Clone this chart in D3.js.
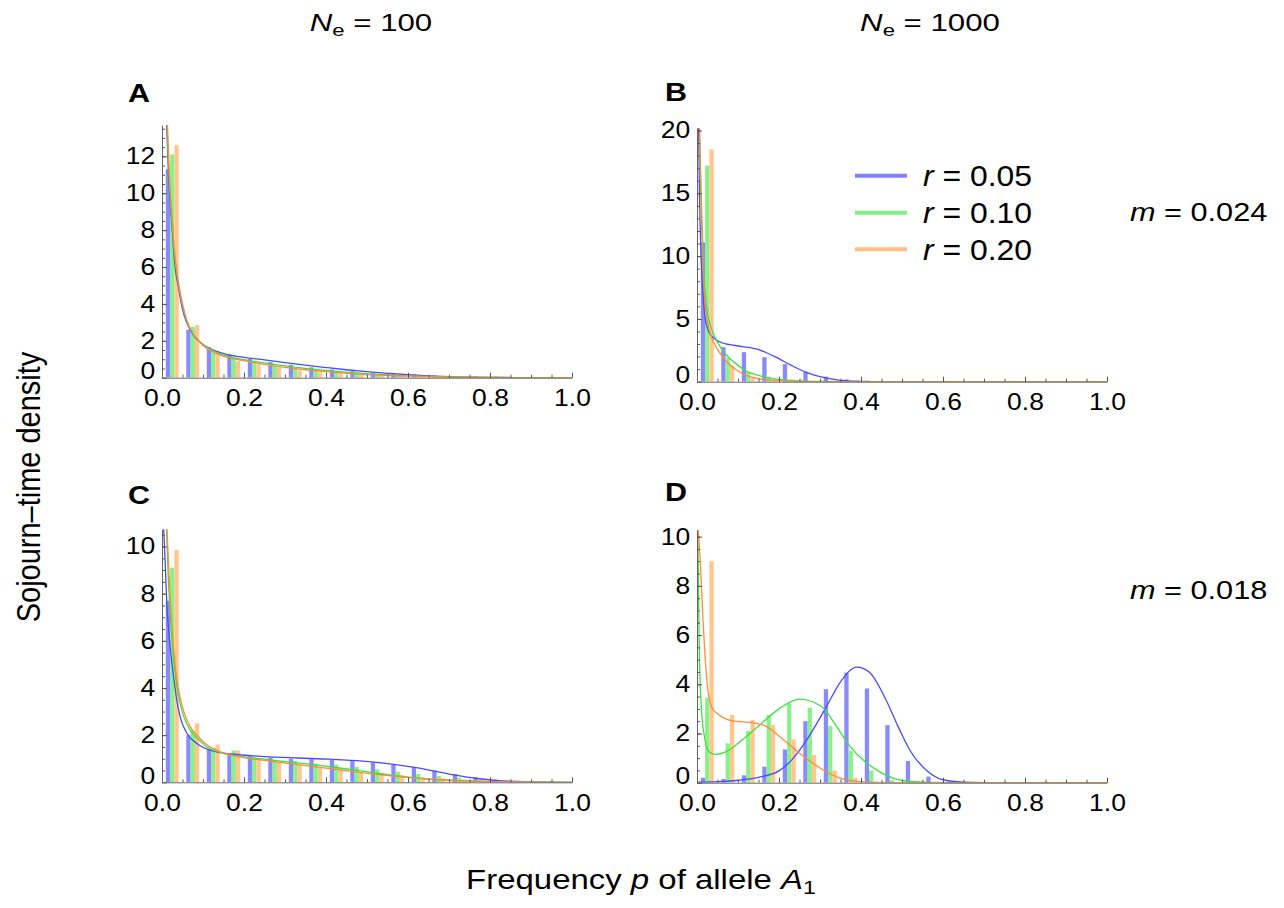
<!DOCTYPE html>
<html>
<head>
<meta charset="UTF-8">
<script src="https://d3js.org/d3.v7.min.js"></script>
<style>
    body {
        margin: 0;
        background: #fff;
        font-family: "Liberation Sans", Arial, Helvetica, sans-serif;
    }
    .tick text { fill: #000; }
</style>
</head>
<body>
<svg id="chart" width="1284" height="908"></svg>
<script>
// ---- data ----
const seriesKeys = ["0.05", "0.10", "0.20"];
const xTickValues = [0, 0.2, 0.4, 0.6, 0.8, 1.0];
const binCenters = [0.025, 0.075, 0.125, 0.175, 0.225, 0.275, 0.325, 0.375, 0.425, 0.475,
                    0.525, 0.575, 0.625, 0.675, 0.725, 0.775, 0.825, 0.875, 0.925, 0.975];

const yTicksA = [0, 2, 4, 6, 8, 10, 12];
const yTicksB = [0, 5, 10, 15, 20];
const yTicksC = [0, 2, 4, 6, 8, 10];
const yTicksD = [0, 2, 4, 6, 8, 10];

// histogram bars, one value per bin
const barsA_r005 = [11.3, 2.6, 1.65, 1.25, 1.02, 0.85, 0.7, 0.56, 0.45, 0.35, 0.28, 0.22, 0.17, 0.12, 0.09, 0.07, 0.05, 0.04, 0.02, 0.01];
const barsA_r010 = [12.1, 2.75, 1.45, 1.05, 0.85, 0.65, 0.5, 0.4, 0.3, 0.25, 0.18, 0.13, 0.1, 0.07, 0.05, 0.04, 0.03, 0.02, 0.01, 0.005];
const barsA_r020 = [12.6, 2.85, 1.35, 0.9, 0.72, 0.55, 0.4, 0.3, 0.24, 0.18, 0.13, 0.1, 0.07, 0.05, 0.04, 0.03, 0.02, 0.015, 0.01, 0.005];

const barsB_r005 = [11.1, 2.75, 2.35, 1.95, 1.4, 0.8, 0.4, 0.18, 0.08, 0.04, 0.02, 0.01, 0, 0, 0, 0, 0, 0, 0, 0];
const barsB_r010 = [17.2, 1.9, 0.75, 0.3, 0.12, 0.05, 0.02, 0.01, 0, 0, 0, 0, 0, 0, 0, 0, 0, 0, 0, 0];
const barsB_r020 = [18.5, 1.3, 0.3, 0.1, 0.03, 0.01, 0, 0, 0, 0, 0, 0, 0, 0, 0, 0, 0, 0, 0, 0];

const barsC_r005 = [7.7, 2.0, 1.4, 1.2, 1.1, 1.05, 1.0, 0.98, 0.95, 0.9, 0.85, 0.75, 0.65, 0.5, 0.35, 0.22, 0.12, 0.06, 0.03, 0.01];
const barsC_r010 = [9.1, 2.2, 1.45, 1.35, 1.05, 0.95, 0.9, 0.8, 0.75, 0.65, 0.55, 0.45, 0.35, 0.27, 0.2, 0.13, 0.08, 0.04, 0.02, 0.01];
const barsC_r020 = [9.85, 2.5, 1.6, 1.35, 1.0, 0.85, 0.75, 0.65, 0.55, 0.45, 0.38, 0.3, 0.22, 0.17, 0.12, 0.08, 0.05, 0.03, 0.01, 0.005];

const barsD_r005 = [0.2, 0.15, 0.3, 0.65, 1.35, 2.5, 3.8, 4.47, 3.83, 2.34, 0.88, 0.25, 0.05, 0.02, 0, 0, 0, 0, 0, 0];
const barsD_r010 = [3.45, 1.6, 2.1, 2.75, 3.22, 3.05, 2.3, 1.3, 0.5, 0.1, 0.02, 0, 0, 0, 0, 0, 0, 0, 0, 0];
const barsD_r020 = [9.0, 2.75, 2.55, 2.34, 1.76, 1.12, 0.5, 0.2, 0.05, 0.01, 0, 0, 0, 0, 0, 0, 0, 0, 0, 0];

// diffusion curves, [p, density]
const curveA_r005 = [[0.011,13.9],[0.015,11.5],[0.02,9.5],[0.025,8],[0.03,6.4],[0.04,4.9],[0.05,3.7],[0.06,3.0],[0.08,2.2],[0.1,1.8],[0.13,1.45],[0.16,1.25],[0.2,1.1],[0.25,0.97],[0.3,0.82],[0.35,0.68],[0.4,0.55],[0.45,0.43],[0.5,0.33],[0.55,0.24],[0.6,0.16],[0.65,0.1],[0.7,0.06],[0.8,0.02],[0.9,0.005],[1,0]];
const curveA_r010 = [[0.012,13.9],[0.016,11.5],[0.02,9.8],[0.025,8.3],[0.03,6.8],[0.04,5.1],[0.05,3.9],[0.06,3.1],[0.08,2.25],[0.1,1.8],[0.13,1.4],[0.16,1.15],[0.2,0.98],[0.25,0.8],[0.3,0.64],[0.35,0.5],[0.4,0.39],[0.45,0.3],[0.5,0.22],[0.55,0.15],[0.6,0.1],[0.7,0.04],[0.8,0.015],[0.9,0.004],[1,0]];
const curveA_r020 = [[0.013,13.9],[0.017,11.6],[0.02,10.2],[0.025,8.6],[0.03,7.0],[0.04,5.2],[0.05,4.0],[0.06,3.15],[0.08,2.25],[0.1,1.75],[0.13,1.35],[0.16,1.1],[0.2,0.92],[0.25,0.72],[0.3,0.56],[0.35,0.43],[0.4,0.33],[0.45,0.24],[0.5,0.17],[0.55,0.12],[0.6,0.08],[0.7,0.03],[0.8,0.01],[0.9,0.003],[1,0]];

const curveB_r005 = [[0.004,20.2],[0.006,15],[0.008,12],[0.012,8.5],[0.016,6.3],[0.02,5.0],[0.03,3.9],[0.04,3.5],[0.06,3.1],[0.08,2.95],[0.11,2.8],[0.15,2.55],[0.19,2.0],[0.23,1.3],[0.27,0.7],[0.3,0.4],[0.33,0.2],[0.36,0.08],[0.4,0.03],[0.45,0.01],[0.5,0],[1,0]];
const curveB_r010 = [[0.006,20.2],[0.01,15],[0.015,10],[0.02,7],[0.03,4.8],[0.04,3.8],[0.06,2.6],[0.08,1.85],[0.1,1.3],[0.12,0.85],[0.15,0.5],[0.18,0.28],[0.2,0.18],[0.25,0.06],[0.3,0.02],[0.4,0],[1,0]];
const curveB_r020 = [[0.006,20.2],[0.01,14],[0.015,9],[0.02,6.2],[0.03,4.1],[0.04,3.2],[0.06,2.1],[0.08,1.35],[0.1,0.85],[0.12,0.5],[0.15,0.25],[0.2,0.08],[0.25,0.02],[0.3,0],[1,0]];

const curveC_r005 = [[0.004,10.8],[0.008,9.2],[0.012,7.5],[0.016,6.5],[0.022,5.4],[0.028,4.5],[0.036,3.5],[0.044,2.8],[0.06,2.1],[0.085,1.65],[0.13,1.3],[0.17,1.2],[0.25,1.09],[0.33,1.03],[0.41,0.98],[0.49,0.9],[0.57,0.75],[0.62,0.62],[0.7,0.35],[0.78,0.14],[0.82,0.07],[0.9,0.02],[1,0]];
const curveC_r010 = [[0.011,10.8],[0.015,8.8],[0.02,7.2],[0.028,5.3],[0.036,4.1],[0.044,3.35],[0.055,2.7],[0.069,2.2],[0.09,1.8],[0.11,1.5],[0.15,1.23],[0.2,1.08],[0.25,0.98],[0.33,0.82],[0.41,0.66],[0.49,0.47],[0.57,0.28],[0.65,0.14],[0.74,0.06],[0.85,0.02],[1,0]];
const curveC_r020 = [[0.012,10.8],[0.016,9.2],[0.02,7.8],[0.028,5.75],[0.036,4.4],[0.044,3.6],[0.055,2.9],[0.069,2.35],[0.09,1.9],[0.11,1.58],[0.15,1.25],[0.2,1.05],[0.25,0.93],[0.33,0.75],[0.41,0.58],[0.49,0.4],[0.57,0.25],[0.65,0.13],[0.74,0.06],[0.85,0.02],[1,0]];

const curveD_r005 = [[0,0.02],[0.05,0.04],[0.1,0.1],[0.15,0.22],[0.2,0.48],[0.235,1.0],[0.27,1.8],[0.316,3.1],[0.35,4.1],[0.39,4.7],[0.42,4.5],[0.46,3.4],[0.49,2.3],[0.52,1.3],[0.56,0.5],[0.6,0.12],[0.65,0.02],[0.7,0],[1,0]];
const curveD_r010 = [[0.002,10.3],[0.005,6],[0.01,3.2],[0.02,1.7],[0.03,1.25],[0.045,1.15],[0.07,1.25],[0.1,1.6],[0.15,2.3],[0.2,3.0],[0.25,3.4],[0.28,3.3],[0.31,3.0],[0.34,2.3],[0.37,1.55],[0.41,0.85],[0.45,0.4],[0.48,0.18],[0.53,0.04],[0.6,0],[1,0]];
const curveD_r020 = [[0.003,10.3],[0.008,9],[0.015,6.5],[0.025,4.0],[0.035,3.1],[0.05,2.8],[0.09,2.5],[0.13,2.45],[0.17,2.28],[0.2,1.9],[0.25,1.2],[0.3,0.6],[0.35,0.18],[0.4,0.04],[0.45,0],[1,0]];

// ---- styles ----
const barColors = ["#8a8aff", "#8af08a", "#ffc68e"];
const lineColors = ["#4a4aff", "#3ee03e", "#ff8a3c"];
const legendColors = ["#8282ff", "#82f082", "#ffbf82"];
const barSpan = 0.0315;
const textStretch = 1.15; // the figure text is wider than it is tall

const panels = [
    { letter: "A", lx: 128, ly: 102, left: 162, right: 572, top: 125, bottom: 377.7, yMax: 13.7, yTicks: yTicksA, minor: 0.5,
      bars: [barsA_r005, barsA_r010, barsA_r020], curves: [curveA_r005, curveA_r010, curveA_r020] },
    { letter: "B", lx: 665, ly: 101, left: 697, right: 1107, top: 128, bottom: 381.7, yMax: 20.2, yTicks: yTicksB, minor: 1,
      bars: [barsB_r005, barsB_r010, barsB_r020], curves: [curveB_r005, curveB_r010, curveB_r020] },
    { letter: "C", lx: 128, ly: 504, left: 162, right: 572, top: 529.3, bottom: 782.3, yMax: 10.73, yTicks: yTicksC, minor: 0.5,
      bars: [barsC_r005, barsC_r010, barsC_r020], curves: [curveC_r005, curveC_r010, curveC_r020] },
    { letter: "D", lx: 665, ly: 501, left: 697, right: 1107, top: 530, bottom: 782.7, yMax: 10.27, yTicks: yTicksD, minor: 0.5,
      bars: [barsD_r005, barsD_r010, barsD_r020], curves: [curveD_r005, curveD_r010, curveD_r020] }
];

const svg = d3.select("#chart");
const defs = svg.append("defs");

// text placed at (x, y) and widened horizontally by sx
function wideText(x, y, sx) {
    return svg.append("text")
        .attr("transform", `translate(${x},${y}) scale(${sx},1)`);
}

panels.forEach(p => {
    const x = d3.scaleLinear().domain([0, 1]).range([p.left, p.right]);
    const y = d3.scaleLinear().domain([0, p.yMax]).range([p.bottom, p.top]);
    const inner = d3.scaleBand().domain(seriesKeys).range([-barSpan / 2, barSpan / 2]);
    const g = svg.append("g");

    const clipId = "clip" + p.letter;
    defs.append("clipPath").attr("id", clipId)
        .append("rect")
        .attr("x", p.left - 2).attr("y", p.top)
        .attr("width", p.right - p.left + 4).attr("height", p.bottom - p.top);

    // bars
    seriesKeys.forEach((s, i) => {
        g.append("g")
            .attr("clip-path", `url(#${clipId})`)
            .selectAll("rect")
            .data(p.bars[i].map((v, k) => ({ c: binCenters[k], v })))
            .join("rect")
            .attr("x", d => x(d.c + inner(s)))
            .attr("width", x(inner.bandwidth()) - x(0))
            .attr("y", d => y(d.v))
            .attr("height", d => y(0) - y(d.v))
            .attr("fill", barColors[i]);
    });

    // curves
    const line = d3.line()
        .x(d => x(d[0]))
        .y(d => y(d[1]))
        .curve(d3.curveMonotoneX);
    p.curves.forEach((c, i) => {
        g.append("path")
            .datum(c)
            .attr("clip-path", `url(#${clipId})`)
            .attr("fill", "none")
            .attr("stroke", lineColors[i])
            .attr("stroke-width", 1.3)
            .attr("d", line);
    });

    // x axis
    const xAxis = g.append("g")
        .attr("transform", `translate(0,${p.bottom})`)
        .call(d3.axisBottom(x)
            .tickValues(xTickValues)
            .tickFormat(d3.format(".1f"))
            .tickSizeInner(-5)
            .tickSizeOuter(0)
            .tickPadding(12));
    g.append("g")
        .attr("transform", `translate(0,${p.bottom})`)
        .call(d3.axisBottom(x)
            .tickValues(d3.range(0.05, 1, 0.05))
            .tickFormat("")
            .tickSizeInner(-3)
            .tickSizeOuter(0))
        .call(a => a.select(".domain").remove());

    // y axis
    const yAxis = g.append("g")
        .attr("transform", `translate(${p.left},0)`)
        .call(d3.axisLeft(y)
            .tickValues(p.yTicks)
            .tickSizeInner(-5)
            .tickSizeOuter(0)
            .tickPadding(6));
    g.append("g")
        .attr("transform", `translate(${p.left},0)`)
        .call(d3.axisLeft(y)
            .tickValues(d3.range(p.minor, p.yMax, p.minor))
            .tickFormat("")
            .tickSizeInner(-3)
            .tickSizeOuter(0))
        .call(a => a.select(".domain").remove());

    [xAxis, yAxis].forEach(a => {
        a.selectAll(".tick text")
            .attr("transform", `scale(${textStretch},1)`)
            .style("font-family", "'Liberation Sans', Arial, sans-serif")
            .style("font-size", "23px");
        a.select(".domain").attr("stroke", "#666");
    });
    // the zero label sits a little above the axis, as in the figure
    yAxis.selectAll(".tick text").filter(d => d === 0).attr("dy", "0.05em");
    g.selectAll(".tick line").attr("stroke", "#555");

    wideText(p.lx, p.ly, 1.22)
        .style("font-size", "25px")
        .style("font-weight", "bold")
        .text(p.letter);
});

// column headers
[[371, "100"], [930, "1000"]].forEach(([cx, n]) => {
    const t = wideText(cx, 31, 1.3)
        .attr("text-anchor", "middle")
        .style("font-size", "24px");
    t.append("tspan").style("font-style", "italic").text("N");
    t.append("tspan").attr("dy", 5).style("font-size", "17px").text("e");
    t.append("tspan").attr("dy", -5).text(" = " + n);
});

// row labels
[[221, "0.024"], [599, "0.018"]].forEach(([ly, m]) => {
    const t = wideText(1130, ly, 1.18)
        .style("font-size", "26px");
    t.append("tspan").style("font-style", "italic").text("m");
    t.append("tspan").text(" = " + m);
});

// axis titles
svg.append("text")
    .attr("transform", "translate(40,487) rotate(-90) scale(1,1.12)")
    .attr("text-anchor", "middle")
    .style("font-size", "29px")
    .text("Sojourn\u2013time density");

const xt = wideText(641, 889, 1.22)
    .attr("text-anchor", "middle")
    .style("font-size", "27px");
xt.append("tspan").text("Frequency ");
xt.append("tspan").style("font-style", "italic").text("p");
xt.append("tspan").text(" of allele ");
xt.append("tspan").style("font-style", "italic").text("A");
xt.append("tspan").attr("dy", 5).style("font-size", "19px").text("1");

// legend
const legendY = [175.7, 212.7, 249.3];
seriesKeys.forEach((s, i) => {
    svg.append("line")
        .attr("x1", 855).attr("x2", 907)
        .attr("y1", legendY[i]).attr("y2", legendY[i])
        .attr("stroke", legendColors[i])
        .attr("stroke-width", 4);
    const t = wideText(923, legendY[i], 1.1)
        .attr("dy", "0.36em")
        .style("font-size", "29px");
    t.append("tspan").style("font-style", "italic").text("r");
    t.append("tspan").text(" = " + s);
});
</script>
</body>
</html>
